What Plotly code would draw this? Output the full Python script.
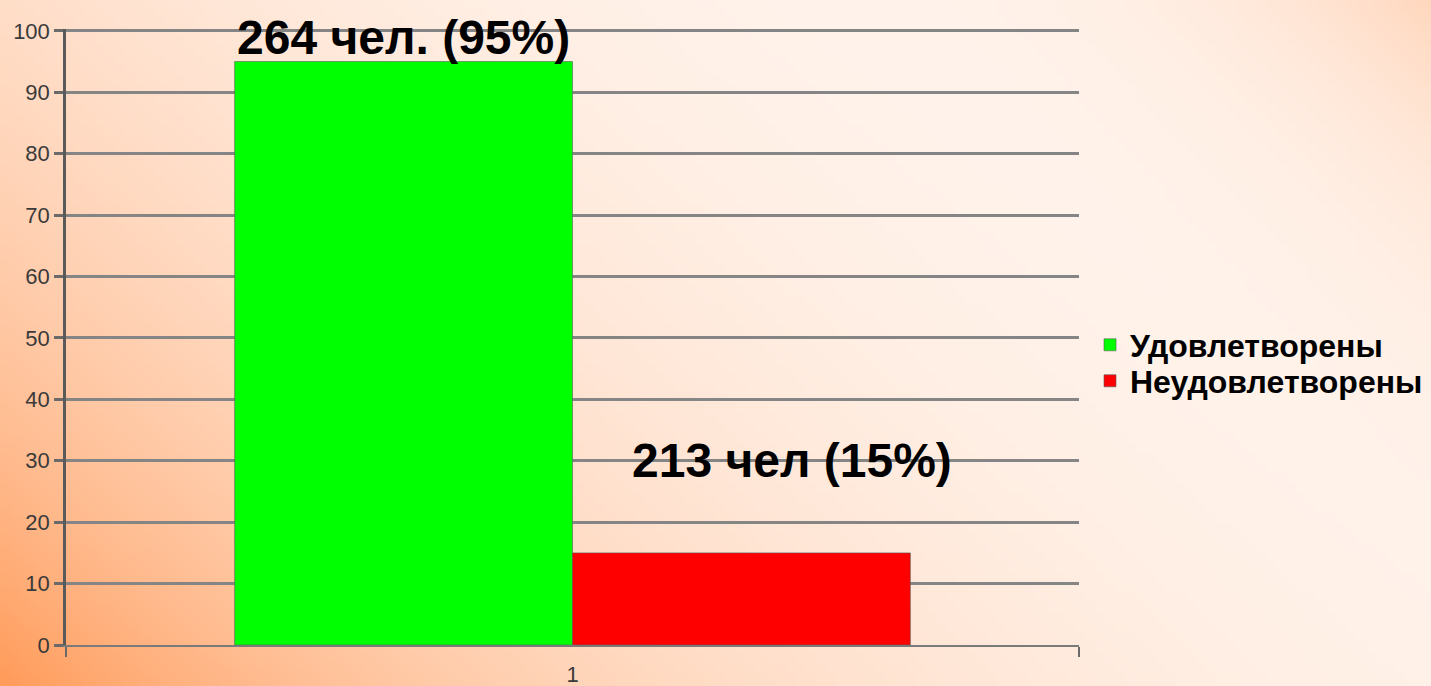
import base64
import math
import struct
import zlib

import plotly.graph_objects as go

# ---- data ----
categories = ["1"]
series_names = ["Удовлетворены", "Неудовлетворены"]
series_values = [95, 15]
series_colors = ["#00FF00", "#FF0000"]
bar_labels = ["264 чел. (95%)", "213 чел (15%)"]
y_ticks = [0, 10, 20, 30, 40, 50, 60, 70, 80, 90, 100]

# ---- figure geometry ----
W, H = 1431, 686
Y_MAX = 100.3
L, R, T, B = 66, 352, 29, 41
PW, PH = W - L - R, H - T - B


# ---- background gradient image (decoration) ----
def make_png(w, h, rows):
    raw = b"".join(b"\x00" + bytes(r) for r in rows)

    def chunk(t, d):
        return struct.pack(">I", len(d)) + t + d + struct.pack(">I", zlib.crc32(t + d) & 0xFFFFFFFF)

    return (b"\x89PNG\r\n\x1a\n"
            + chunk(b"IHDR", struct.pack(">IIBBBBB", w, h, 8, 2, 0, 0, 0))
            + chunk(b"IDAT", zlib.compress(raw, 9))
            + chunk(b"IEND", b""))


gw, gh = 143, 69
orange = (255, 149, 80)
rows = []
for j in range(gh):
    py = (j + 0.5) / gh * H
    row = []
    for i in range(gw):
        px = (i + 0.5) / gw * W
        a1 = 0.95 * math.exp(-px / 680.0) * math.exp(-(H - py) / 620.0)
        a2 = 0.36 * math.exp(-(W - px) / 240.0) * math.exp(-py / 240.0)
        a = 1 - (1 - a1) * (1 - a2)
        row += [round(255 * (1 - a) + c * a) for c in orange]
    rows.append(row)
bg_uri = "data:image/png;base64," + base64.b64encode(make_png(gw, gh, rows)).decode()

legend_ids = ["legend", "legend2"]

fig = go.Figure()
for name, val, col, lg in zip(series_names, series_values, series_colors, legend_ids):
    fig.add_trace(go.Bar(
        x=categories, y=[val], name=name, legend=lg,
        marker=dict(color=col, line=dict(color="rgba(90,90,90,0.6)", width=1)),
        hoverinfo="y+name",
    ))

# bar labels (annotations in data coordinates)
label_x = [-0.167, 0.217]
label_y = [98.9, 30.0]
for txt, lx, ly in zip(bar_labels, label_x, label_y):
    fig.add_annotation(
        x=lx, y=ly, xref="x", yref="y", text=txt, showarrow=False,
        font=dict(family="Liberation Sans, Arial, sans-serif", size=48, color="#000000", weight="bold"),
        xanchor="center", yanchor="middle",
    )

legend_font = dict(family="Liberation Sans, Arial, sans-serif", size=32, color="#000000", weight="bold")
legend_common = dict(
    x=(1090 - L) / PW, xanchor="left", yanchor="middle",
    bgcolor="rgba(0,0,0,0)", font=legend_font, itemwidth=30,
)

fig.update_layout(
    width=W, height=H,
    margin=dict(l=L, r=R, t=T, b=B, pad=0, autoexpand=False),
    paper_bgcolor="#FFFFFF",
    plot_bgcolor="rgba(0,0,0,0)",
    barmode="group",
    bargap=0.333,
    bargroupgap=0,
    font=dict(family="Liberation Sans, Arial, sans-serif", color="#3a3a3a"),
    showlegend=True,
    legend=dict(y=1 - (345 - T) / PH, **legend_common),
    legend2=dict(y=1 - (381 - T) / PH, **legend_common),
    images=[dict(
        source=bg_uri, xref="paper", yref="paper",
        x=-L / PW, y=1 + T / PH, sizex=W / PW, sizey=H / PH,
        xanchor="left", yanchor="top", sizing="stretch", layer="below",
    )],
    xaxis=dict(
        type="category", range=[-0.5, 0.5], automargin=False,
        showgrid=False, showline=True, linecolor="#7a7a7a", linewidth=2,
        ticks="outside", tickson="boundaries", ticklen=10, tickwidth=2, tickcolor="#6a6a6a",
        ticklabelstandoff=9,
        tickfont=dict(size=22, color="#3a3a3a"),
        zeroline=False,
    ),
    yaxis=dict(
        range=[0, Y_MAX], tickvals=y_ticks, automargin=False,
        showgrid=True, gridcolor="#858585", gridwidth=2.5,
        showline=True, linecolor="#5a5a5a", linewidth=2.5,
        ticks="outside", ticklen=9, tickwidth=2.5, tickcolor="#6a6a6a",
        tickfont=dict(size=22, color="#3a3a3a"),
        zeroline=False,
    ),
)

fig.write_html(
    "out.html",
    config={"displayModeBar": False},
    post_script="document.body.style.margin='0';document.body.style.padding='0';",
)
